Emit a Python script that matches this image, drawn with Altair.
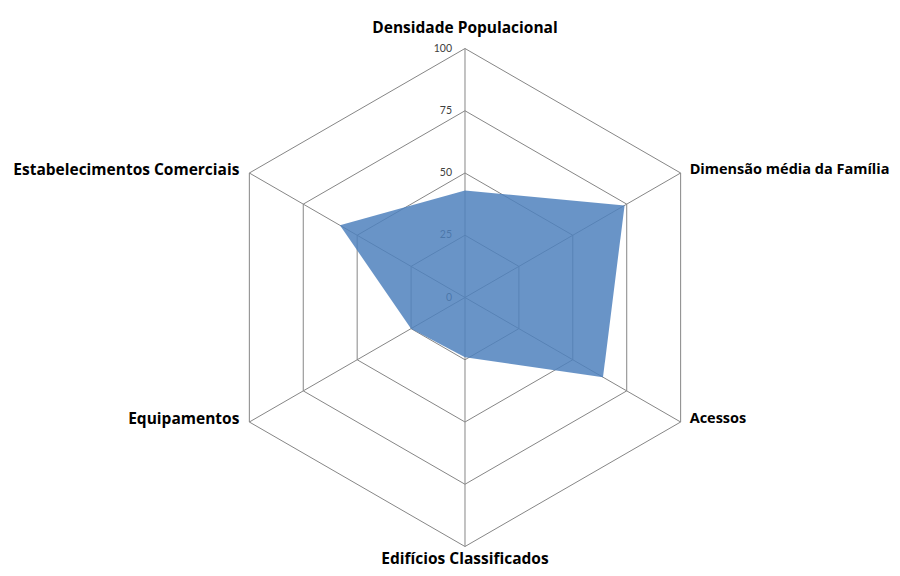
import altair as alt
import pandas as pd

categories = [
    "Densidade Populacional",
    "Dimensão média da Família",
    "Acessos",
    "Edifícios Classificados",
    "Equipamentos",
    "Estabelecimentos Comerciais",
]
values = [43, 74, 64, 24, 25, 58]
ring_levels = [25, 50, 75, 100]
tick_levels = [0, 25, 50, 75, 100]
axis_max = 100

n = len(categories)

# polygon data (closed)
poly = pd.DataFrame({
    "idx": list(range(n + 1)),
    "cat": categories + [categories[0]],
    "value": values + [values[0]],
})

grid = pd.DataFrame(
    [{"level": lv, "idx": i} for lv in ring_levels for i in range(n + 1)]
)
spokes = pd.DataFrame({"idx": list(range(n)), "cat": categories})
ticks = pd.DataFrame({"level": tick_levels})

ANG = f"datum.idx * 2 * PI / {n}"

xs = alt.Scale(domain=[-183.53, 171.49], nice=False, zero=False)
ys = alt.Scale(domain=[-108.63, 116.27], nice=False, zero=False)
noaxis = None

def X(field):
    return alt.X(field, type="quantitative", scale=xs, axis=noaxis)

def Y(field):
    return alt.Y(field, type="quantitative", scale=ys, axis=noaxis)

grid_lines = alt.Chart(grid).transform_calculate(
    gx=f"datum.level * sin({ANG})",
    gy=f"datum.level * cos({ANG})",
).mark_line(color="#868686", strokeWidth=1).encode(
    x=X("gx"), y=Y("gy"), detail="level:N", order="idx:Q"
)

spoke_lines = alt.Chart(spokes).transform_calculate(
    x0="0", y0="0",
    sx=f"{axis_max} * sin({ANG})",
    sy=f"{axis_max} * cos({ANG})",
).mark_rule(color="#868686", strokeWidth=1).encode(
    x=X("x0"), y=Y("y0"), x2="sx:Q", y2="sy:Q"
)

tick_text = alt.Chart(ticks).transform_calculate(
    tx="0", ty="datum.level"
).mark_text(align="right", baseline="middle", dx=-13, font="Lato",
            fontSize=10.5, color="#404040").encode(
    x=X("tx"), y=Y("ty"), text="level:Q"
)

fill = alt.Chart(poly).transform_calculate(
    px=f"datum.value * sin({ANG})",
    py=f"datum.value * cos({ANG})",
).mark_line(filled=True, color="#4f81bd", fillOpacity=0.85,
            strokeWidth=0).encode(
    x=X("px"), y=Y("py"), order="idx:Q"
)

lab_base = alt.Chart(spokes).transform_calculate(
    lx=f"{axis_max} * sin({ANG})",
    ly=f"{axis_max} * cos({ANG})",
)
font = dict(font="Open Sans", fontSize=15.5, fontWeight="bold", color="#000000")
font_r = dict(font, fontSize=14.5)
lab_top = lab_base.transform_filter("datum.idx == 0").mark_text(
    align="center", baseline="middle", dy=-21, **font
).encode(x=X("lx"), y=Y("ly"), text="cat:N")
lab_bot = lab_base.transform_filter(f"datum.idx == {n // 2}").mark_text(
    align="center", baseline="middle", dy=12, **font
).encode(x=X("lx"), y=Y("ly"), text="cat:N")
lab_right = lab_base.transform_filter(
    f"datum.idx > 0 && datum.idx < {n // 2}"
).mark_text(align="left", baseline="middle", dx=9, dy=-3, **font_r).encode(
    x=X("lx"), y=Y("ly"), text="cat:N")
lab_left = lab_base.transform_filter(f"datum.idx > {n // 2}").mark_text(
    align="right", baseline="middle", dx=-10, dy=-3, **font
).encode(x=X("lx"), y=Y("ly"), text="cat:N")

chart = alt.layer(
    grid_lines, spoke_lines, tick_text, fill,
    lab_top, lab_bot, lab_right, lab_left,
).properties(
    width=884, height=560, autosize=alt.AutoSizeParams(type="none"),
    padding=0, background="#ffffff",
).configure_view(stroke=None)

chart.save("out.html", embed_options={"renderer": "svg", "actions": False})
